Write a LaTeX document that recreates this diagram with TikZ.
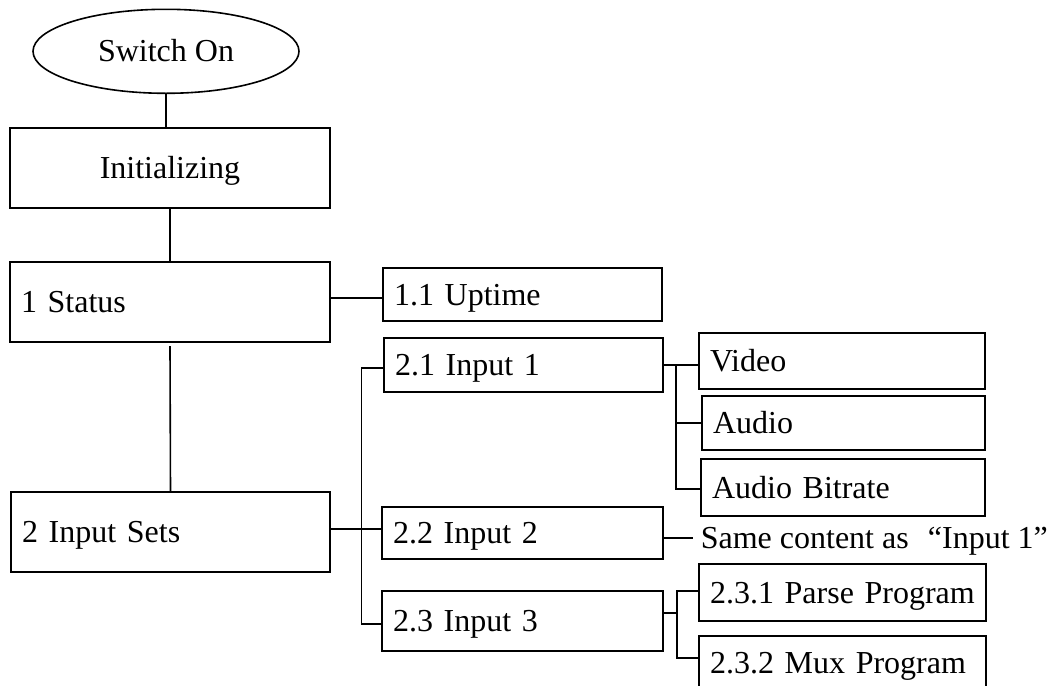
\documentclass[tikz,border=0pt]{standalone}
\usepackage{fontspec}
\setmainfont{Liberation Serif}
\usetikzlibrary{shapes.geometric}
\begin{document}
\begin{tikzpicture}[x=0.5pt,y=-0.5pt,line width=0.8pt,
  txt/.style={font=\fontsize{16}{19}\selectfont, text height=10.6pt, text depth=0pt},
  box/.style={txt, draw, rectangle, outer sep=0pt, inner ysep=0pt, inner xsep=5.5pt},
  lbox/.style={box, align=left},
  oval/.style={txt, draw, ellipse, outer sep=0pt, inner sep=0pt, minimum width=133pt, minimum height=42pt}]
\useasboundingbox (0,0) rectangle (1062,686);

\node[oval] (on) at (166,51.3) {Switch On};
\node[box, minimum width=160pt, minimum height=40pt] (init) at (170,168) {Initializing};
\node[lbox, minimum width=160pt, minimum height=40pt, text width=149pt] (status) at (170,302) {1 Status};
\node[lbox, minimum width=159.5pt, minimum height=40pt, text width=148.5pt] (sets) at (170.5,532) {2 Input Sets};
\node[lbox, minimum width=139.5pt, minimum height=26.5pt, text width=128.5pt] (uptime) at (522.5,294.5) {1.1 Uptime};
\node[lbox, minimum width=139.5pt, minimum height=27pt, text width=128.5pt] (in1) at (523.5,365) {2.1 Input 1};
\node[lbox, minimum width=140.5pt, minimum height=26pt, text width=129.5pt] (in2) at (522.5,533) {2.2 Input 2};
\node[lbox, minimum width=140.5pt, minimum height=30pt, text width=129.5pt] (in3) at (522.5,621) {2.3 Input 3};
\node[lbox, minimum width=143pt, minimum height=28pt, text width=132pt] (video) at (842,361) {Video};
\node[lbox, minimum width=141.5pt, minimum height=27pt, text width=130.5pt] (audio) at (843.5,423) {Audio};
\node[lbox, minimum width=142pt, minimum height=28.5pt, text width=131pt] (bitrate) at (843,487.5) {Audio Bitrate};
\node[lbox, minimum width=143.5pt, minimum height=28.5pt, text width=132.5pt] (parse) at (842.5,592.5) {2.3.1 Parse Program};
\node[lbox, minimum width=143.5pt, minimum height=27pt, text width=132.5pt] (mux) at (842.5,663) {2.3.2 Mux Program};
\node[txt, anchor=west, inner sep=0pt] (same) at (700,538) {Same content as\hspace{0.6em}“Input 1”};

% main column
\draw (on.south) -- (on.south |- init.north);
\draw (init.south) -- (status.north);
\draw ([yshift=-2pt]status.south) -- (sets.north);
\coordinate (u) at (330,298);
\draw (status.east |- u) -- (uptime.west |- u);

% input bus
\coordinate (b1) at (361.5,368);
\coordinate (b2) at (361.5,529);
\coordinate (b3) at (361.5,624);
\draw (in1.west |- b1) -- (b1) -- (b3) -- (in3.west |- b3);
\draw (sets.east |- b2) -- (in2.west |- b2);

% input 1 children
\coordinate (v1) at (676,365);
\coordinate (v3) at (676,489);
\draw (in1.east |- v1) -- (video.west |- v1);
\draw (v1) -- (v3) -- (bitrate.west |- v3);
\draw (audio.west -| v1) -- (audio.west);

% input 2
\draw (in2.east |- same.west) -- ([xshift=-3.5pt]same.west);

% input 3 children
\coordinate (p0) at (677,613);
\coordinate (p1) at (677,591);
\coordinate (p2) at (677,658);
\draw (in3.east |- p0) -- (p0);
\draw (parse.west |- p1) -- (p1) -- (p2) -- (mux.west |- p2);
\end{tikzpicture}
\end{document}
